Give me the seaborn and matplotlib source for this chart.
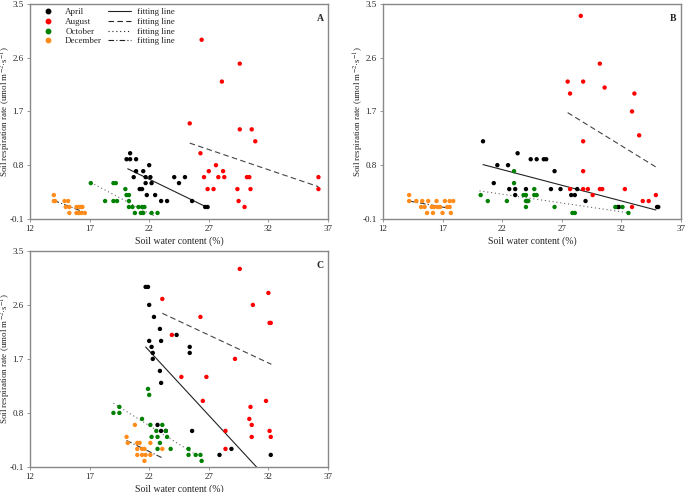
import pandas as pd
import seaborn as sns
import matplotlib.pyplot as plt
from matplotlib.lines import Line2D

months = ['April', 'August', 'October', 'December']
colors = ['#000000', '#ff0000', '#008000', '#ff8c1a']
line_styles = ['-', (0, (5, 3)), (0, (1, 2.5)), (0, (5, 2, 1, 2))]

# Panel A
a_apr_x = [20.1, 20.4, 20.4, 20.9, 22.0, 20.9, 21.5, 20.7, 21.7, 22.1, 21.7, 22.2, 21.2, 21.4,
           21.8, 22.5, 23.0, 23.5, 24.1, 24.5, 25.0, 25.6, 26.7, 26.9]
a_apr_y = [0.9, 0.9, 1.0, 0.9, 0.8, 0.7, 0.7, 0.6, 0.6, 0.6, 0.5, 0.5, 0.4, 0.4,
           0.3, 0.3, 0.2, 0.2, 0.6, 0.5, 0.6, 0.2, 0.1, 0.1]
a_aug_x = [26.4, 29.6, 28.1, 25.4, 29.6, 30.6, 30.9, 26.3, 27.6, 27.0, 28.2, 26.6, 27.8, 28.3,
           30.2, 30.4, 36.2, 26.9, 27.4, 29.4, 30.5, 36.2, 29.5, 30.0]
a_aug_y = [2.9, 2.5, 2.2, 1.5, 1.4, 1.4, 1.2, 1.0, 0.8, 0.7, 0.7, 0.6, 0.6, 0.6,
           0.6, 0.6, 0.6, 0.4, 0.4, 0.4, 0.4, 0.4, 0.2, 0.1]
a_oct_x = [17.1, 19.0, 19.2, 20.0, 20.1, 20.3, 18.3, 19.0, 19.3, 20.3, 20.3, 20.6, 21.1, 21.4,
           21.6, 20.8, 21.3, 21.5, 22.2, 22.7]
a_oct_y = [0.5, 0.5, 0.5, 0.4, 0.3, 0.3, 0.2, 0.2, 0.2, 0.2, 0.1, 0.1, 0.1, 0.1,
           0.1, 0.0, 0.0, 0.0, 0.0, 0.0]
a_dec_x = [14.0, 14.0, 14.1, 14.9, 15.2, 15.0, 15.3, 15.9, 16.1, 16.3, 16.4, 15.3, 15.9, 16.1,
           16.3, 16.6]
a_dec_y = [0.3, 0.2, 0.2, 0.2, 0.2, 0.1, 0.1, 0.1, 0.1, 0.1, 0.1, 0.0, 0.0, 0.0,
           0.0, 0.0]
a_fit_x = [[20.2, 26.7], [25.4, 36.2], [17.1, 22.6], [14.0, 16.7]]
a_fit_y = [[0.74, 0.11], [1.17, 0.44], [0.51, -0.07], [0.21, 0.0]]

# Panel B
b_apr_x = [20.4, 21.6, 22.5, 23.3, 24.4, 24.9, 25.5, 25.7, 26.4, 21.3, 22.6, 23.1, 24.0, 26.1,
           26.9, 28.3, 23.1, 27.8, 28.1, 24.1, 29.0, 31.7, 31.8, 35.0, 35.1]
b_apr_y = [1.2, 0.8, 0.8, 1.0, 0.9, 0.9, 0.9, 0.9, 0.7, 0.5, 0.4, 0.4, 0.4, 0.4,
           0.4, 0.4, 0.3, 0.3, 0.3, 0.2, 0.2, 0.1, 0.1, 0.1, 0.1]
b_aug_x = [28.6, 30.2, 27.5, 28.8, 27.7, 30.6, 33.1, 32.9, 33.5, 28.8, 28.8, 27.7, 28.8, 29.2,
           30.2, 30.4, 32.3, 29.6, 34.9, 33.8, 34.3, 32.9]
b_aug_y = [3.3, 2.5, 2.2, 2.2, 2.0, 2.1, 2.0, 1.7, 1.3, 1.2, 0.7, 0.4, 0.4, 0.4,
           0.4, 0.4, 0.4, 0.3, 0.3, 0.2, 0.2, 0.1]
b_oct_x = [23.0, 23.0, 20.2, 23.8, 24.0, 24.7, 24.9, 24.7, 20.8, 22.4, 24.0, 24.2, 24.0, 26.4,
           31.5, 32.1, 27.9, 28.1, 32.6]
b_oct_y = [0.7, 0.5, 0.3, 0.3, 0.3, 0.3, 0.3, 0.4, 0.2, 0.2, 0.2, 0.2, 0.1, 0.1,
           0.1, 0.1, 0.0, 0.0, 0.0]
b_dec_x = [14.2, 14.2, 14.8, 15.3, 15.8, 16.5, 17.2, 17.6, 17.9, 15.2, 15.5, 16.1, 16.3, 16.6,
           16.8, 17.4, 17.6, 15.7, 16.2, 17.0, 17.7]
b_dec_y = [0.3, 0.2, 0.2, 0.2, 0.2, 0.2, 0.2, 0.2, 0.2, 0.1, 0.1, 0.1, 0.1, 0.1,
           0.1, 0.1, 0.1, 0.0, 0.0, 0.0, 0.0]
b_fit_x = [[20.4, 34.9], [27.5, 34.9], [20.1, 32.7], [14.2, 17.8]]
b_fit_y = [[0.81, 0.05], [1.68, 0.77], [0.37, 0.0], [0.2, 0.07]]

# Panel C
c_apr_x = [21.7, 21.9, 22.0, 22.4, 22.9, 22.0, 23.0, 22.2, 25.4, 22.3, 25.4, 22.3, 22.9, 23.0,
           24.3, 22.7, 23.0, 23.4, 25.6, 28.9, 27.9, 32.2]
c_apr_y = [2.9, 2.9, 2.6, 2.4, 2.2, 2.0, 2.0, 1.9, 1.9, 1.8, 1.8, 1.7, 1.5, 1.3,
           2.1, 0.6, 0.5, 0.5, 0.5, 0.2, 0.1, 0.1]
c_aug_x = [29.6, 32.0, 23.1, 30.7, 26.3, 32.1, 32.2, 23.9, 29.2, 24.7, 26.8, 26.5, 31.8, 30.5,
           30.4, 30.6, 28.4, 32.1, 30.6, 32.2, 28.4]
c_aug_y = [3.2, 2.8, 2.7, 2.6, 2.4, 2.3, 2.3, 2.1, 1.7, 1.4, 1.4, 1.0, 1.0, 0.9,
           0.7, 0.6, 0.5, 0.5, 0.4, 0.4, 0.2]
c_oct_x = [21.9, 22.0, 19.5, 19.0, 19.5, 21.4, 22.1, 23.1, 22.6, 23.4, 22.2, 22.7, 23.5, 22.9,
           22.7, 23.8, 25.3, 25.3, 25.9, 26.3, 26.4]
c_oct_y = [1.2, 1.1, 0.9, 0.8, 0.8, 0.7, 0.6, 0.6, 0.5, 0.5, 0.4, 0.4, 0.4, 0.3,
           0.2, 0.2, 0.2, 0.1, 0.1, 0.1, 0.0]
c_dec_x = [20.8, 20.1, 20.2, 21.0, 21.2, 22.1, 21.0, 21.4, 21.6, 23.1, 21.0, 21.4, 21.7, 22.1,
           21.6]
c_dec_y = [0.6, 0.4, 0.3, 0.3, 0.3, 0.3, 0.2, 0.2, 0.2, 0.2, 0.1, 0.1, 0.1, 0.1,
           0.0]
c_fit_x = [[21.7, 31.0], [23.1, 32.25], [19.0, 25.7], [20.1, 23.1]]
c_fit_y = [[1.9, -0.1], [2.46, 1.61], [0.96, 0.13], [0.34, 0.05]]

x_ticks = [12, 17, 22, 27, 32, 37]
y_ticks = [-0.1, 0.8, 1.7, 2.6, 3.5]

sns.set_style('ticks')
plt.rcParams['font.family'] = ['Liberation Serif', 'DejaVu Serif']
plt.rcParams['mathtext.fontset'] = 'stix'


def make_frame(xs, ys):
    rows = []
    for m, x, y in zip(months, xs, ys):
        for xi, yi in zip(x, y):
            rows.append({'month': m, 'swc': xi, 'rs': yi})
    return pd.DataFrame(rows)


def draw_panel(ax, xs, ys, fit_x, fit_y, label, legend=False):
    df = make_frame(xs, ys)
    sns.scatterplot(data=df, x='swc', y='rs', hue='month', hue_order=months,
                    palette=colors, s=10, linewidth=0, legend=False, ax=ax, zorder=3)
    line_colors = ['#222222', '#444444', '#666666', '#333333']
    for fx, fy, ls, lc in zip(fit_x, fit_y, line_styles, line_colors):
        sns.lineplot(x=fx, y=fy, color=lc, linestyle=ls, linewidth=0.8, ax=ax, zorder=2)
    ax.set_xlim(12, 37)
    ax.set_ylim(-0.1, 3.5)
    ax.set_xticks(x_ticks)
    ax.set_yticks(y_ticks)
    ax.set_yticklabels(['-0.1', '0.8', '1.7', '2.6', '3.5'])
    ax.tick_params(labelsize=6.5, length=2.5, width=0.6, color='#888888', pad=2)
    for sp in ax.spines.values():
        sp.set_visible(True)
        sp.set_color('#888888')
        sp.set_linewidth(1.0)
    ax.set_xlabel('Soil water content (%)', fontsize=7, labelpad=2)
    ax.set_ylabel('Soil respiration rate (umol m$^{-2}$·s$^{-1}$)', fontsize=6.5)
    ax.yaxis.set_label_coords(-0.058, 0.5)
    ax.text(0.985, 0.955, label, transform=ax.transAxes, ha='right', va='top',
            fontsize=7, fontweight='bold')
    if legend:
        handles = [Line2D([], [], marker='o', color=c, linestyle='none', markersize=3.2)
                   for c in colors]
        handles += [Line2D([], [], color='#222222', linestyle=ls, linewidth=0.8)
                    for ls in line_styles]
        labels = months + ['fitting line'] * 4
        ax.legend(handles, labels, ncol=2, loc='upper left', frameon=False, fontsize=6.5,
                  handlelength=2.6, handletextpad=0.6, columnspacing=0.6, labelspacing=0.15,
                  bbox_to_anchor=(0.0, 1.01), borderaxespad=0.3)


fig = plt.figure(figsize=(6.85, 4.92), dpi=100)
ax_a = fig.add_axes([0.0438, 0.555, 0.435, 0.437])
ax_b = fig.add_axes([0.559, 0.555, 0.435, 0.437])
ax_c = fig.add_axes([0.0438, 0.051, 0.435, 0.439])

draw_panel(ax_a, [a_apr_x, a_aug_x, a_oct_x, a_dec_x], [a_apr_y, a_aug_y, a_oct_y, a_dec_y],
           a_fit_x, a_fit_y, 'A', legend=True)
draw_panel(ax_b, [b_apr_x, b_aug_x, b_oct_x, b_dec_x], [b_apr_y, b_aug_y, b_oct_y, b_dec_y],
           b_fit_x, b_fit_y, 'B')
draw_panel(ax_c, [c_apr_x, c_aug_x, c_oct_x, c_dec_x], [c_apr_y, c_aug_y, c_oct_y, c_dec_y],
           c_fit_x, c_fit_y, 'C')

fig.savefig('out.png', dpi=100)
